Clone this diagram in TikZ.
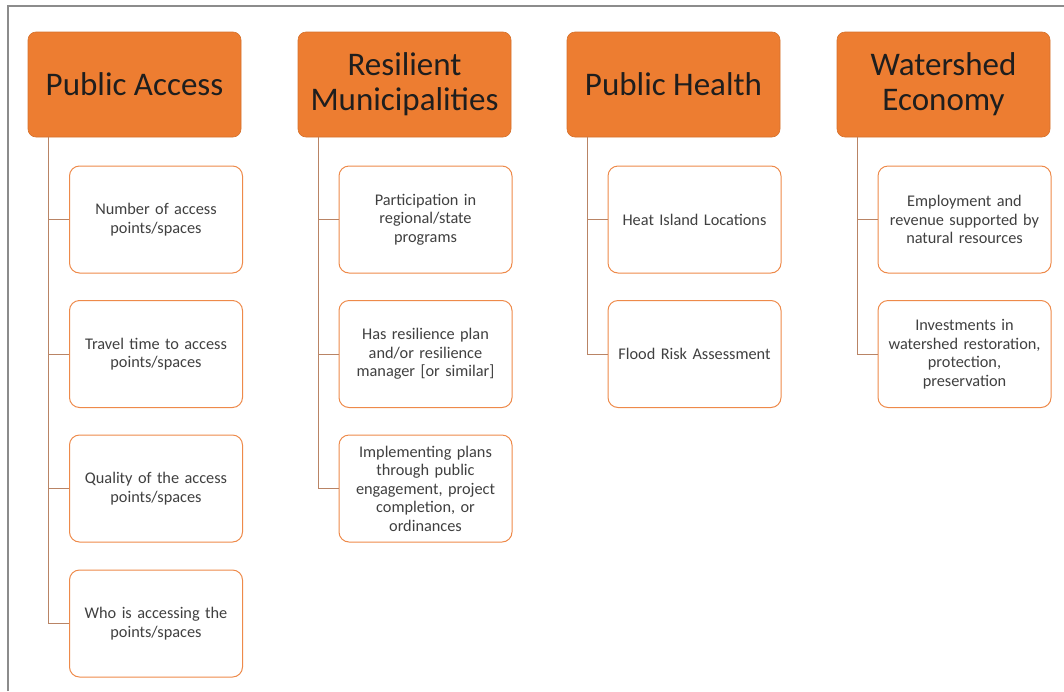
\documentclass[tikz,border=0pt]{standalone}
\usepackage{fontspec}
\setmainfont{Carlito}
\definecolor{hdrfill}{HTML}{ED7D31}
\definecolor{hdrtext}{HTML}{1E1E1E}
\definecolor{boxline}{HTML}{EE8A4A}
\definecolor{boxtext}{HTML}{404040}
\definecolor{conn}{HTML}{B98465}
\definecolor{frame}{HTML}{8C8C8C}
\tikzset{
  hdr/.style={draw=hdrfill!90!black, line width=0.6pt, fill=hdrfill, rounded corners=8pt,
    minimum width=213pt, minimum height=105pt, inner sep=0pt,
    align=center, text=hdrtext, font=\fontsize{33}{35}\selectfont},
  item/.style={draw=boxline, line width=1pt, fill=white, rounded corners=10pt,
    minimum width=173pt, minimum height=107pt, inner sep=0pt, text width=170pt,
    align=center, text=boxtext, font=\fontsize{16.3}{18.5}\selectfont},
  link/.style={draw=conn, line width=1pt}
}
\begin{document}
\begin{tikzpicture}[x=1pt,y=-1pt]
\useasboundingbox (0,0) rectangle (1064,691);
\draw[frame, line width=1.5pt] (8,691) -- (8,6) -- (1064,6);

\node[hdr] (h1) at (134.5,84.5) {Public Access};
\node[hdr] (h2) at (404.5,84.5) {Resilient\\Municipalities};
\node[hdr] (h3) at (673.5,84.5) {Public Health};
\node[hdr] (h4) at (943.5,84.5) {Watershed\\Economy};

\node[item] (a1) at (156,219.5) {Number of access\\points/spaces};
\node[item] (a2) at (156,354) {Travel time to access\\points/spaces};
\node[item] (a3) at (156,488.5) {Quality of the access\\points/spaces};
\node[item] (a4) at (156,623.5) {Who is accessing the\\points/spaces};

\node[item] (b1) at (425.5,219.5) {Participation in\\regional/state\\programs};
\node[item] (b2) at (425.5,354) {Has resilience plan\\and/or resilience\\manager [or similar]};
\node[item] (b3) at (425.5,488.5) {Implementing plans\\through public\\engagement, project\\completion, or\\ordinances};

\node[item] (c1) at (694.5,219.5) {Heat Island Locations};
\node[item] (c2) at (694.5,354) {Flood Risk Assessment};

\node[item] (d1) at (964.5,219.5) {Employment and\\revenue supported by\\natural resources};
\node[item] (d2) at (964.5,354) {Investments in\\watershed restoration,\\protection,\\preservation};

\foreach \h/\c in {h1/a1,h1/a2,h1/a3,h1/a4,h2/b1,h2/b2,h2/b3,h3/c1,h3/c2,h4/d1,h4/d2}
  \draw[link] ([xshift=20.5pt]\h.south west) |- (\c.west);
\end{tikzpicture}
\end{document}
